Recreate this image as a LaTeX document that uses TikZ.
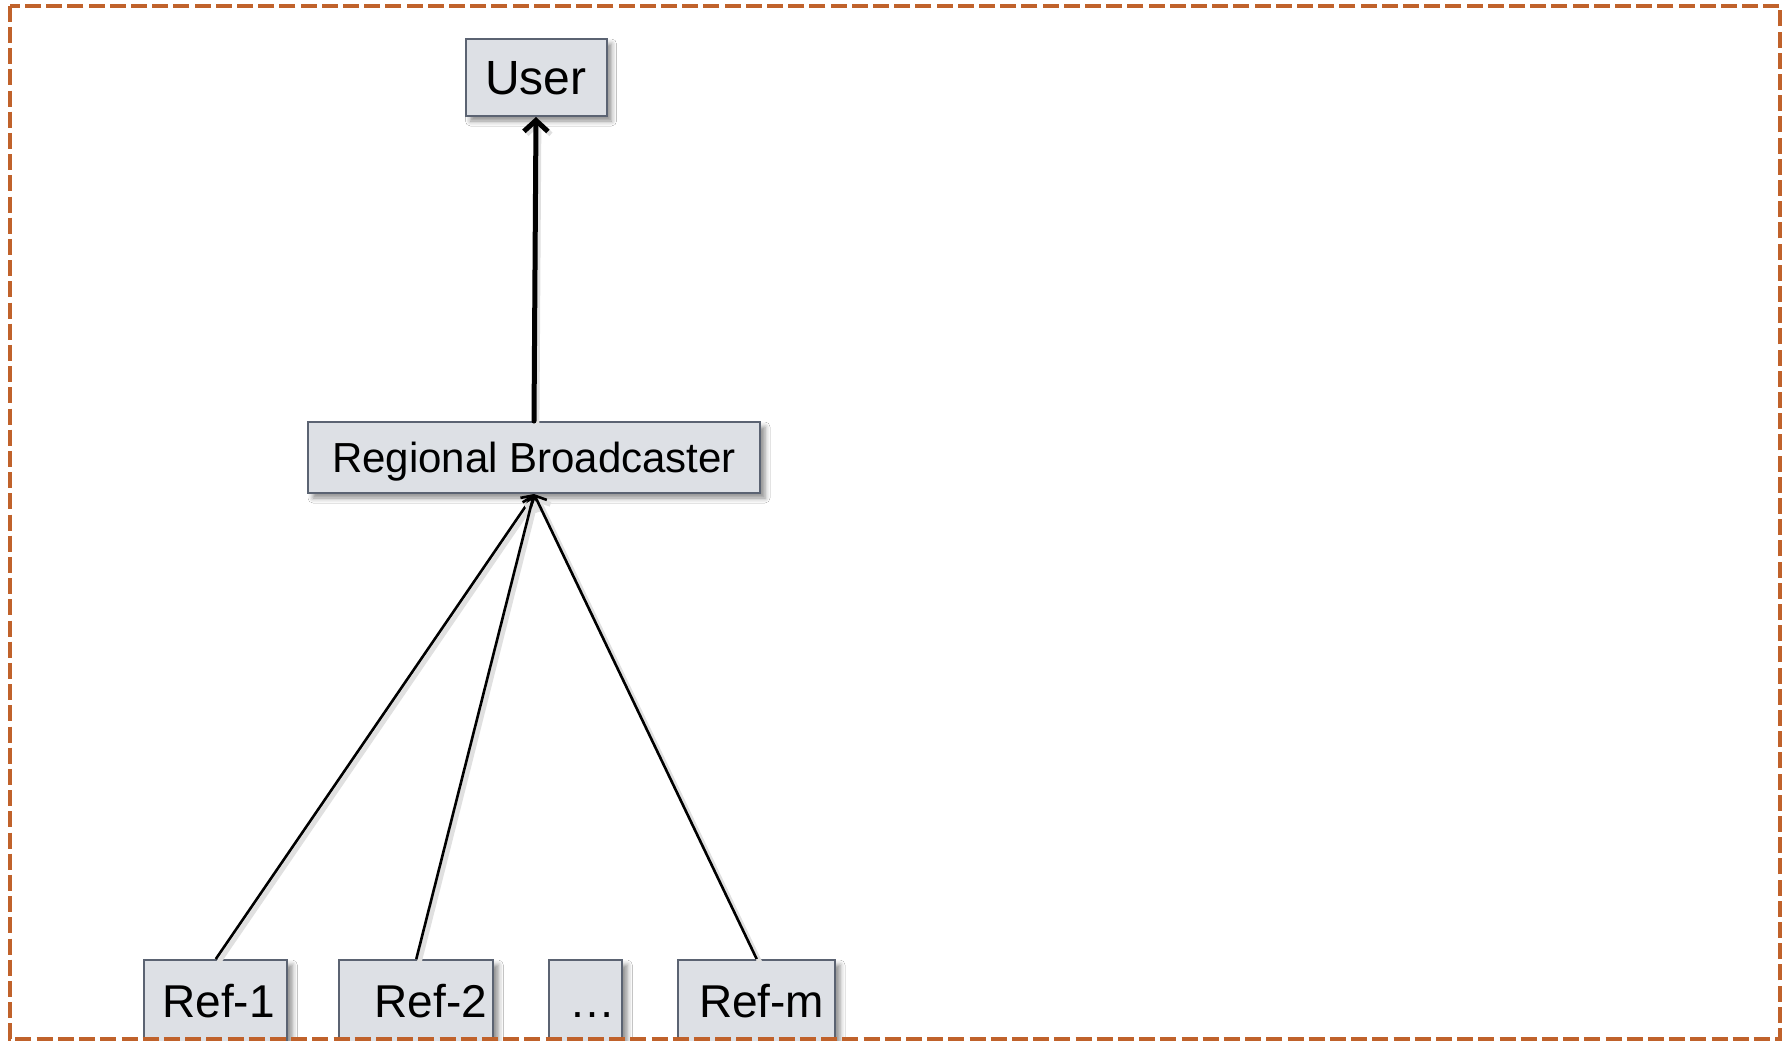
\documentclass[tikz,border=0pt]{standalone}
\usepackage{fontspec}
\setmainfont{Liberation Sans}
\usetikzlibrary{arrows.meta,shadows.blur}
\definecolor{boxfill}{HTML}{DDE0E5}
\definecolor{boxline}{HTML}{5B6372}
\definecolor{frameor}{HTML}{C0622B}
\tikzset{
  gbox/.style={draw=boxline, line width=1pt, fill=boxfill, inner sep=0pt,
    blur shadow={shadow xshift=2.5pt, shadow yshift=-2.5pt, shadow blur radius=2.5pt, shadow opacity=45},
    text depth=0pt, anchor=center},
  refbox/.style={gbox, minimum height=41pt, text height=16.5pt, font=\fontsize{23pt}{27pt}\selectfont},
  lineshadow/.style={preaction={draw=black!12, line width=2.4pt, transform canvas={xshift=1.5pt,yshift=-1.5pt}}},
  thinarrow/.style={lineshadow, draw=black, line width=1.3pt, -{Straight Barb[length=4.5pt,width=9pt]}},
  thickarrow/.style={lineshadow, draw=black, line width=2.5pt, line cap=round, -{Straight Barb[length=5.5pt,width=12pt]}},
  frame/.style={draw=frameor, line width=2.2pt, dash pattern=on 8pt off 2.6pt}
}
\begin{document}
\begin{tikzpicture}[x=0.5pt,y=-0.5pt]
\useasboundingbox (0,0) rectangle (1784,1040);
\clip (0,0) rectangle (1784,1040);
\fill[white] (0,0) rectangle (1784,1040);
\node[gbox, minimum width=70.5pt, minimum height=38.5pt, text height=17.2pt, font=\fontsize{24pt}{28pt}\selectfont] (user) at (536,77.5) {User};
\node[gbox, minimum width=226pt, minimum height=35.5pt, text height=15pt, font=\fontsize{21pt}{25pt}\selectfont] (rb) at (534,457.5) {Regional Broadcaster};
\node[refbox, minimum width=71.5pt] (r1) at (215.8,1001) {\hspace*{2.7pt}Ref-1};
\node[refbox, minimum width=77pt] (r2) at (416.3,1001) {\hspace*{14.5pt}Ref-2};
\node[refbox, minimum width=36.5pt] (rd) at (585.8,1001) {\hspace*{6.7pt}…};
\node[refbox, minimum width=78.3pt] (rm) at (756.7,1001) {\hspace*{5pt}Ref-m};
\draw[thickarrow] (rb.north) -- (user.south);
\draw[thinarrow] (r1.north) -- (rb.south);
\draw[thinarrow] (r2.north) -- (rb.south);
\draw[thinarrow] (rm.north) -- (rb.south);
\draw[frame] (10,5.7) rectangle (1780,1039);
\end{tikzpicture}
\end{document}
